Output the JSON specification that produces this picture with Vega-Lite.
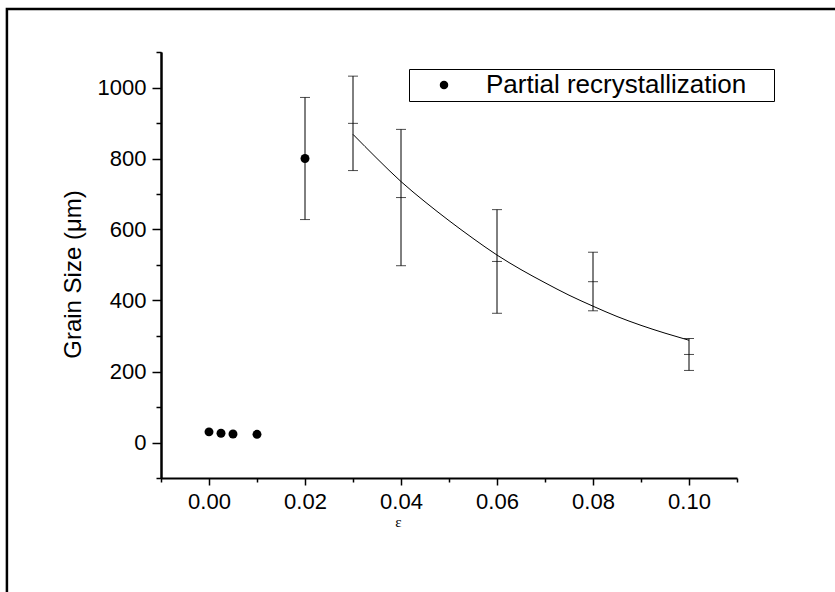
{
  "$schema": "https://vega.github.io/schema/vega-lite/v6.json",
  "width": 576,
  "height": 426,
  "autosize": {"type": "none"},
  "padding": {"left": 161, "top": 52, "right": 98, "bottom": 114},
  "background": "white",
  "config": {
    "view": {"stroke": null},
    "font": "Liberation Sans",
    "axis": {
      "domainColor": "black",
      "domainWidth": 2,
      "tickColor": "black",
      "tickWidth": 1.5,
      "labelColor": "black",
      "labelFont": "Liberation Sans",
      "labelFontSize": 22,
      "labelOverlap": false,
      "grid": false,
      "titleColor": "black",
      "titleFontWeight": "normal"
    },
    "legend": {
      "orient": "none",
      "legendX": 248,
      "legendY": 17,
      "padding": 3,
      "strokeColor": "black",
      "fillColor": "white",
      "labelFont": "Liberation Sans",
      "labelFontSize": 26,
      "labelColor": "black",
      "labelLimit": 0,
      "symbolSize": 72,
      "symbolFillColor": "black",
      "symbolStrokeColor": "black",
      "symbolOffset": 19,
      "labelOffset": 29,
      "titleOrient": "right",
      "titleOpacity": 0,
      "titleFontSize": 10,
      "titlePadding": 0
    }
  },
  "resolve": {"axis": {"y": "independent"}},
  "datasets": {
    "frame": [{"x1": -0.0421, "x2": 0.3, "y1": 1221, "y2": -1000}],
    "dots": [
      {"x": 0, "y": 30},
      {"x": 0.0025, "y": 26},
      {"x": 0.005, "y": 24},
      {"x": 0.01, "y": 23},
      {"x": 0.02, "y": 800}
    ],
    "bars": [
      {"x": 0.02, "m": null, "lo": 628, "hi": 972},
      {"x": 0.03, "m": 899, "lo": 766, "hi": 1032},
      {"x": 0.04, "m": 690, "lo": 498, "hi": 882},
      {"x": 0.06, "m": 510, "lo": 364, "hi": 656},
      {"x": 0.08, "m": 453, "lo": 371, "hi": 536},
      {"x": 0.1, "m": 248, "lo": 203, "hi": 293}
    ],
    "fit": [
      {"x": 0.03, "y": 868},
      {"x": 0.035, "y": 800},
      {"x": 0.04, "y": 735},
      {"x": 0.045, "y": 678},
      {"x": 0.05, "y": 625},
      {"x": 0.055, "y": 575},
      {"x": 0.06, "y": 528},
      {"x": 0.065, "y": 487},
      {"x": 0.07, "y": 450},
      {"x": 0.075, "y": 415},
      {"x": 0.08, "y": 384},
      {"x": 0.085, "y": 355},
      {"x": 0.09, "y": 330},
      {"x": 0.095, "y": 308},
      {"x": 0.1, "y": 288}
    ]
  },
  "layer": [
    {
      "data": {"name": "frame"},
      "mark": {"type": "rect", "clip": false, "fillOpacity": 0, "stroke": "black", "strokeWidth": 2.5},
      "encoding": {
        "x": {
          "field": "x1",
          "type": "quantitative",
          "scale": {"domain": [-0.01, 0.11], "nice": false, "zero": false},
          "axis": {
            "values": [-0.01, 0, 0.01, 0.02, 0.03, 0.04, 0.05, 0.06, 0.07, 0.08, 0.09, 0.1, 0.11],
            "labelExpr": "round(datum.value*100) % 2 === 0 ? format(datum.value, '.2f') : ''",
            "tickSize": {"condition": {"test": "round(datum.value*100) % 2 === 0", "value": 7}, "value": 4},
            "labelPadding": 6,
            "title": "ε",
            "titleX": 237,
            "titleY": 43,
            "titleFont": "Liberation Serif",
            "titleFontSize": 15,
            "titleBaseline": "middle"
          }
        },
        "x2": {"field": "x2"},
        "y": {
          "field": "y1",
          "type": "quantitative",
          "scale": {"domain": [-100, 1100], "nice": false, "zero": false},
          "axis": {
            "orient": "left",
            "values": [0, 200, 400, 600, 800, 1000],
            "format": "d",
            "tickSize": 9,
            "labelPadding": 6,
            "title": "Grain Size (μm)",
            "titleFont": "Liberation Sans",
            "titleFontSize": 24,
            "titleAngle": -90,
            "titleX": -81,
            "titleY": 222,
            "titleAlign": "center",
            "titleBaseline": "alphabetic"
          }
        },
        "y2": {"field": "y2"}
      }
    },
    {
      "data": {"name": "bars"},
      "mark": {"type": "rule", "color": "black", "strokeWidth": 1},
      "encoding": {
        "x": {"field": "x", "type": "quantitative"},
        "y": {
          "field": "lo",
          "type": "quantitative",
          "axis": {
            "orient": "left",
            "values": [-100, 100, 300, 500, 700, 900, 1100],
            "tickSize": 5,
            "labels": false,
            "title": null
          }
        },
        "y2": {"field": "hi"}
      }
    },
    {
      "data": {"name": "bars"},
      "mark": {"type": "tick", "orient": "horizontal", "color": "black", "size": 10, "thickness": 1},
      "encoding": {
        "x": {"field": "x", "type": "quantitative"},
        "y": {"field": "lo", "type": "quantitative", "axis": null}
      }
    },
    {
      "data": {"name": "bars"},
      "mark": {"type": "tick", "orient": "horizontal", "color": "black", "size": 10, "thickness": 1},
      "encoding": {
        "x": {"field": "x", "type": "quantitative"},
        "y": {"field": "hi", "type": "quantitative", "axis": null}
      }
    },
    {
      "data": {"name": "bars"},
      "mark": {"type": "tick", "orient": "horizontal", "color": "black", "size": 10, "thickness": 1},
      "encoding": {
        "x": {"field": "x", "type": "quantitative"},
        "y": {"field": "m", "type": "quantitative", "axis": null}
      }
    },
    {
      "data": {"name": "fit"},
      "mark": {"type": "line", "color": "black", "strokeWidth": 1, "interpolate": "monotone"},
      "encoding": {
        "x": {"field": "x", "type": "quantitative"},
        "y": {"field": "y", "type": "quantitative", "axis": null}
      }
    },
    {
      "data": {"name": "dots"},
      "mark": {"type": "point", "filled": true, "color": "black", "opacity": 1, "size": 80},
      "encoding": {
        "x": {"field": "x", "type": "quantitative"},
        "y": {"field": "y", "type": "quantitative", "axis": null},
        "shape": {
          "datum": "Partial recrystallization",
          "scale": {"range": ["circle"]},
          "legend": {"title": "MMM"}
        }
      }
    }
  ]
}
